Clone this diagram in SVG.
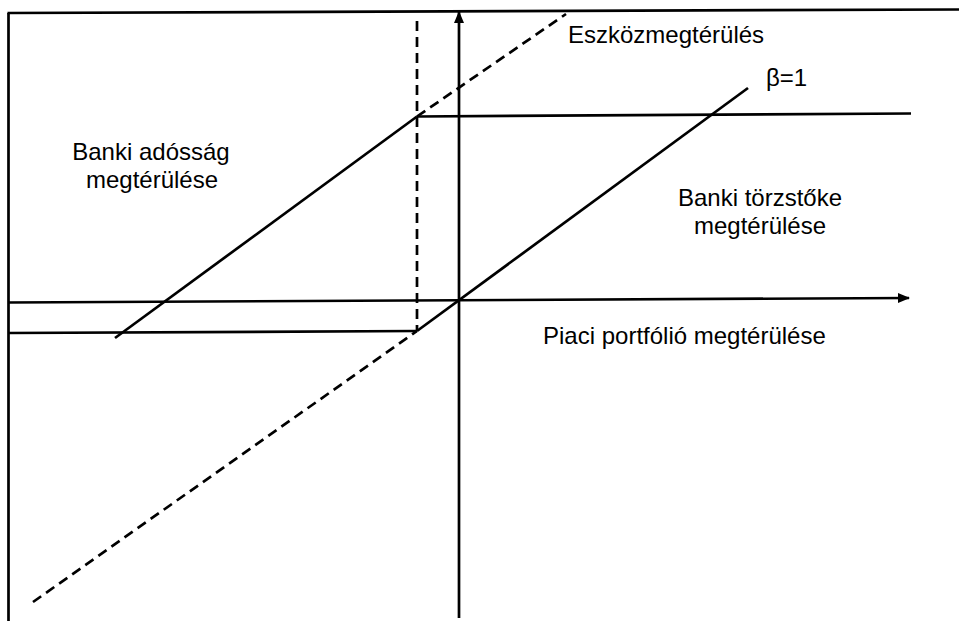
<svg xmlns="http://www.w3.org/2000/svg" width="959" height="621" viewBox="0 0 959 621">
<defs>
<marker id="arr" markerWidth="12" markerHeight="12" refX="11" refY="6" orient="auto" markerUnits="userSpaceOnUse">
<path d="M0,1 L12,6 L0,11 Z" fill="#000"/>
</marker>
</defs>
<style>
.ln{stroke:#000;stroke-width:2.7;fill:none;stroke-linecap:butt}
.ds{stroke:#000;stroke-width:2.7;fill:none;stroke-dasharray:10,6}
.t{font-family:"Liberation Sans",Arial,sans-serif;font-size:24px;fill:#000}
</style>
<rect width="959" height="621" fill="#fff"/>
<g id="frame">
<line class="ln" x1="8.5" y1="13" x2="8.5" y2="621"/>
<line class="ln" x1="7.5" y1="13" x2="959" y2="9.5"/>
</g>
<g id="connectors">
<line class="ln" x1="459" y1="618" x2="459" y2="12" marker-end="url(#arr)"/>
<line class="ln" x1="8" y1="302.5" x2="909" y2="298" marker-end="url(#arr)"/>
<line class="ln" x1="8" y1="333" x2="417" y2="331"/>
<line class="ln" x1="417" y1="116.5" x2="911" y2="113.5"/>
<line class="ds" x1="417" y1="21" x2="417" y2="331"/>
<line class="ln" x1="417" y1="116.5" x2="115" y2="338"/>
<line class="ln" x1="417" y1="331" x2="748" y2="88"/>
<line class="ds" x1="33" y1="602" x2="417" y2="331"/>
<line class="ds" x1="417" y1="116.5" x2="566" y2="14"/>
</g>
<g id="label-eszkoz"><text class="t" x="568" y="43">Eszközmegtérülés</text></g>
<g id="label-beta"><text class="t" x="766" y="86">β=1</text></g>
<g id="label-adossag"><text class="t" x="151" y="160" text-anchor="middle">Banki adósság</text><text class="t" x="152" y="188" text-anchor="middle">megtérülése</text></g>
<g id="label-torzstoke"><text class="t" x="760" y="206" text-anchor="middle">Banki törzstőke</text><text class="t" x="760" y="234" text-anchor="middle">megtérülése</text></g>
<g id="label-piaci"><text class="t" x="543" y="344">Piaci portfólió megtérülése</text></g>
</svg>
